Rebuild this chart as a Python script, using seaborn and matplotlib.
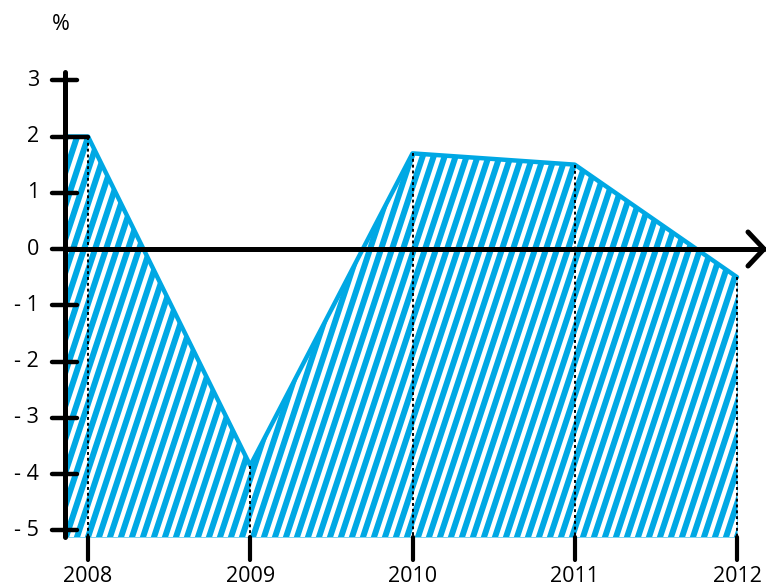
import matplotlib
matplotlib.use("Agg")
import matplotlib.pyplot as plt
import numpy as np
import pandas as pd
import seaborn as sns
from matplotlib.collections import LineCollection

# data
years = [2008, 2009, 2010, 2011, 2012]
growth = [2.0, -3.85, 1.7, 1.5, -0.5]
y_ticks = [3, 2, 1, 0, -1, -2, -3, -4, -5]
y_labels = ["3", "2", "1", "0", "- 1", "- 2", "- 3", "- 4", "- 5"]
unit_label = "%"

BLUE = "#00A8E4"

sns.set_theme(style="white")
plt.rcParams["font.family"] = ["Open Sans", "DejaVu Sans"]

# pixel -> data mapping of the reference (766x588)
px_per_year = 162.25
px_per_unit = 56.25
x0_px, y0_px = 88, 249


def xd(px):
    return 2008 + (px - x0_px) / px_per_year


def yd(px):
    return (y0_px - px) / px_per_unit


fig = plt.figure(figsize=(7.66, 5.88), dpi=100)
ax = fig.add_axes([0, 0, 1, 1])
ax.set_xlim(xd(0), xd(766))
ax.set_ylim(yd(588), yd(0))
ax.axis("off")

x_axis = xd(65)
bottom = yd(537)

df = pd.DataFrame({"year": [x_axis + 0.01] + years, "growth": [growth[0]] + growth})

# blue fill with white steep diagonal stripes
poly = ax.fill_between(df["year"], df["growth"], bottom, color=BLUE, lw=0, zorder=1)
period = 11 / px_per_year
k = 0.33 * px_per_unit / px_per_year  # years shift per unit of y
segs = []
for xs in np.arange(x_axis - k * 12, xd(766), period):
    segs.append([(xs, bottom - 0.5), (xs + k * 10, bottom + 9.5)])
stripes = LineCollection(segs, colors="white", linewidths=3.2, zorder=2)
stripes.set_clip_path(poly.get_paths()[0], ax.transData)
ax.add_collection(stripes)

# outline of the series
sns.lineplot(data=df, x="year", y="growth", color=BLUE, lw=3.2, ax=ax, zorder=3,
             solid_capstyle="round", solid_joinstyle="round")

# dotted drop lines
for yr, v in zip(years, growth):
    ax.plot([yr, yr], [v, bottom], color="black", lw=1.4, ls=(0, (1.5, 1.5)), zorder=4)

# y axis with ticks
ax.plot([x_axis, x_axis], [yd(72), bottom], color="black", lw=3.6,
        solid_capstyle="round", zorder=5)
for t, lab in zip(y_ticks, y_labels):
    right = xd(88) if t == 2 else xd(77)
    ax.plot([xd(52), right], [t, t], color="black", lw=3.2,
            solid_capstyle="round", zorder=5)
    ax.text(xd(39), t, lab, ha="right", va="center", fontsize=15.5, color="black")

# x axis at zero with open arrow
ax.plot([x_axis, xd(764)], [0, 0], color="black", lw=3.6, zorder=5)
ax.plot([xd(748), xd(764), xd(748)], [yd(232), 0, yd(266)], color="black", lw=3.6,
        solid_capstyle="round", solid_joinstyle="miter", zorder=5)

# year ticks below the plot
for yr in years:
    ax.plot([yr, yr], [bottom, yd(560)], color="black", lw=3.0,
            solid_capstyle="round", zorder=5)
    ax.text(yr, yd(577), str(yr), ha="center", va="center", fontsize=15.5, color="black")

ax.text(xd(61), yd(25), unit_label, ha="center", va="center", fontsize=15.5, color="black")

fig.savefig("out.png", dpi=100)
